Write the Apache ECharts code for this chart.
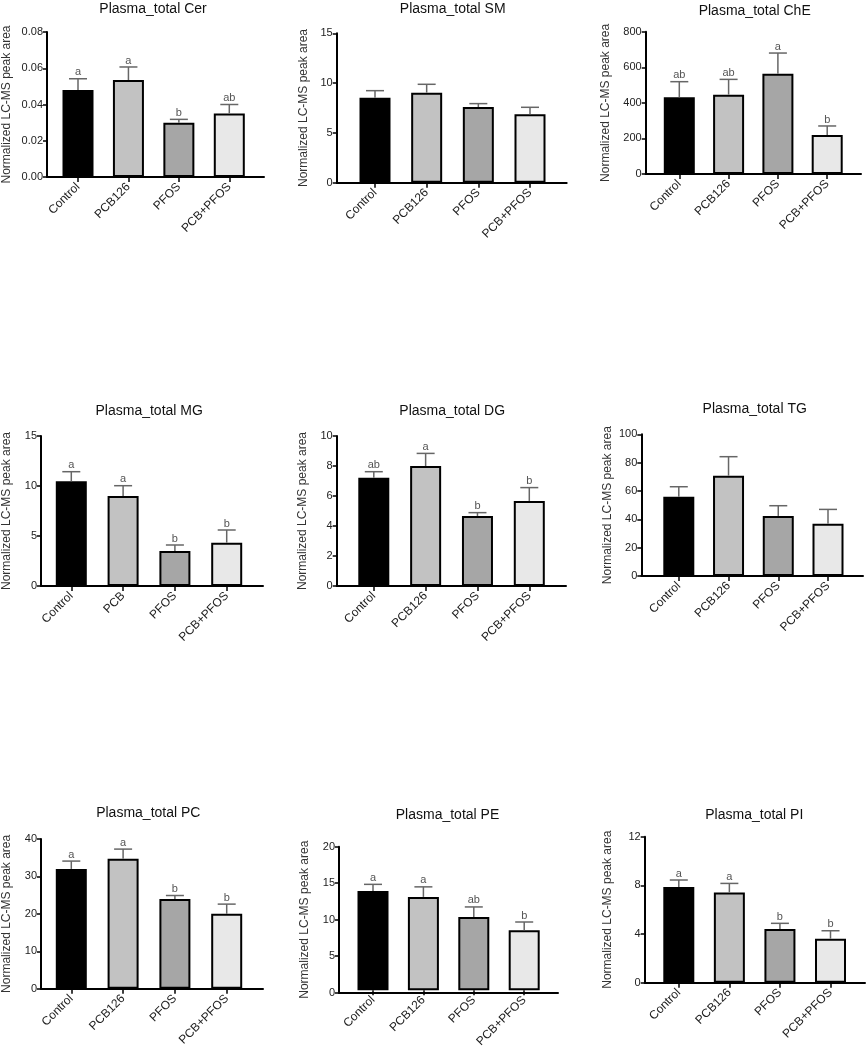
<!DOCTYPE html>
<html><head><meta charset="utf-8">
<script src="https://cdn.jsdelivr.net/npm/echarts@6/dist/echarts.min.js"></script>
<style>html,body{margin:0;padding:0;background:#fff}#c{width:867px;height:1050px}</style>
</head><body><div id="c"></div>
<script>
// ---------- data ----------
const categories = ['Control', 'PCB126', 'PFOS', 'PCB+PFOS'];
const categoriesMG = ['Control', 'PCB', 'PFOS', 'PCB+PFOS'];
const yAxisName = 'Normalized LC-MS peak area';

const titles = ['Plasma_total Cer', 'Plasma_total SM', 'Plasma_total ChE',
                'Plasma_total MG', 'Plasma_total DG', 'Plasma_total TG',
                'Plasma_total PC', 'Plasma_total PE', 'Plasma_total PI'];

const cerMean = [0.048, 0.0535, 0.030, 0.0351];
const cerSem  = [0.0062, 0.0072, 0.0018, 0.0049];
const cerLetters = ['a', 'a', 'b', 'ab'];

const smMean = [8.54, 9.04, 7.60, 6.87];
const smSem  = [0.70, 0.84, 0.34, 0.70];
const smLetters = ['', '', '', ''];

const cheMean = [431, 446, 564, 219];
const cheSem  = [88, 86, 116, 51];
const cheLetters = ['ab', 'ab', 'a', 'b'];

const mgMean = [10.47, 9.00, 3.50, 4.33];
const mgSem  = [0.96, 1.03, 0.60, 1.27];
const mgLetters = ['a', 'a', 'b', 'b'];

const dgMean = [7.22, 8.00, 4.67, 5.67];
const dgSem  = [0.40, 0.84, 0.22, 0.89];
const dgLetters = ['ab', 'a', 'b', 'b'];

const tgMean = [56.0, 70.8, 42.4, 36.9];
const tgSem  = [7.0, 13.4, 7.2, 10.1];
const tgLetters = ['', '', '', ''];

const pcMean = [32.0, 34.7, 24.0, 20.0];
const pcSem  = [2.1, 2.6, 0.9, 2.6];
const pcLetters = ['a', 'a', 'b', 'b'];

const peMean = [13.84, 13.0, 10.2, 8.36];
const peSem  = [0.91, 1.4, 1.4, 1.14];
const peLetters = ['a', 'a', 'ab', 'b'];

const piMean = [7.86, 7.42, 4.41, 3.62];
const piSem  = [0.58, 0.74, 0.47, 0.65];
const piLetters = ['a', 'a', 'b', 'b'];

// y axis scales: [max, interval, decimals]
const yScales = [[0.08, 0.02, 2], [15, 5, 0], [800, 200, 0],
                 [15, 5, 0], [10, 2, 0], [100, 20, 0],
                 [40, 10, 0], [20, 5, 0], [12, 4, 0]];

// ---------- layout / style ----------
const FONT = '"Liberation Sans", Arial, sans-serif';
const barColors = ['#000000', '#c2c2c2', '#a6a6a6', '#e8e8e8'];
const ERR_COLOR = '#666666';
const LETTER_COLOR = '#555555';
// L, R, T, B, firstBarCenter, lastBarCenter, titleX, titleY, nameGap
const layouts = [
  [42, 264, 32, 177, 78, 229.3, 153, 2, 34],
  [336.7, 566.7, 33.3, 182.7, 375, 530, 452.7, 2, 27],
  [645.7, 861, 31.7, 174, 679.3, 827.2, 754.7, 4, 34],
  [36, 263, 436, 586, 71.3, 226.7, 149.2, 404, 28],
  [336.7, 566, 436, 586, 373.8, 529.3, 452.2, 404, 28],
  [641.3, 863, 434.3, 576, 678.8, 828, 754.7, 402, 28],
  [35.7, 263, 839, 988.7, 71.3, 226.7, 148.3, 806, 28],
  [339, 558, 846.7, 992.7, 373, 524.2, 447.5, 808, 28],
  [644.7, 865, 836.7, 982.7, 678.8, 830.5, 754.3, 808, 31]
];

const panels = [
  [categories, cerMean, cerSem, cerLetters],
  [categories, smMean, smSem, smLetters],
  [categories, cheMean, cheSem, cheLetters],
  [categoriesMG, mgMean, mgSem, mgLetters],
  [categories, dgMean, dgSem, dgLetters],
  [categories, tgMean, tgSem, tgLetters],
  [categories, pcMean, pcSem, pcLetters],
  [categories, peMean, peSem, peLetters],
  [categories, piMean, piSem, piLetters]
];

const grid = [], xAxis = [], yAxis = [], series = [], title = [];

panels.forEach((p, i) => {
  const [cats, mean, sem, letters] = p;
  const [L, R, T, B, c1, c4, tx, ty, gap] = layouts[i];
  const [ymax, yint, dec] = yScales[i];
  const s = (c4 - c1) / 3;
  const gA = 2 * i, gB = 2 * i + 1;
  grid.push({ left: L, top: T, width: R - L, height: B - T });
  grid.push({ left: c1 - s / 2, top: T, width: 4 * s, height: B - T });

  title.push({
    text: titles[i], left: tx, top: ty, textAlign: 'center', padding: 0,
    textStyle: { fontSize: 14, fontWeight: 'normal', color: '#111', fontFamily: FONT }
  });

  // frame axes (grid A)
  xAxis.push({
    gridIndex: gA, type: 'value', min: 0, max: 1,
    axisLine: { show: true, lineStyle: { color: '#000', width: 2 } },
    axisTick: { show: false }, axisLabel: { show: false }, splitLine: { show: false }
  });
  yAxis.push({
    gridIndex: gA, type: 'value', min: 0, max: ymax, interval: yint,
    name: yAxisName, nameLocation: 'middle', nameGap: gap,
    nameTextStyle: { fontSize: 12, color: '#333', fontFamily: FONT },
    axisLine: { show: true, lineStyle: { color: '#000', width: 2 } },
    axisTick: { show: true, length: 4, lineStyle: { color: '#000', width: 1.5 } },
    axisLabel: { fontSize: 11, color: '#222', margin: 4, fontFamily: FONT,
                 formatter: v => v.toFixed(dec) },
    splitLine: { show: false }
  });
  // data axes (grid B)
  xAxis.push({
    gridIndex: gB, type: 'category', data: cats,
    axisLine: { show: false },
    axisTick: { show: true, alignWithLabel: true, length: 5, lineStyle: { color: '#000', width: 1.5 } },
    axisLabel: { rotate: 45, fontSize: 12, color: '#222', margin: 8, fontFamily: FONT, interval: 0 },
    splitLine: { show: false }
  });
  yAxis.push({ gridIndex: gB, type: 'value', min: 0, max: ymax, show: false, splitLine: { show: false } });

  series.push({
    type: 'bar', xAxisIndex: gB, yAxisIndex: gB, barWidth: 31,
    data: mean.map((v, j) => ({ value: v, itemStyle: { color: barColors[j] } })),
    itemStyle: { borderColor: '#000', borderWidth: 2 },
    z: 2, silent: true
  });
  series.push({
    type: 'custom', xAxisIndex: gB, yAxisIndex: gB, z: 3, silent: true,
    itemStyle: { color: LETTER_COLOR },
    data: mean.map((v, j) => [j, v, sem[j]]),
    renderItem: (params, api) => {
      const x = api.value(0), m = api.value(1), e = api.value(2);
      const p0 = api.coord([x, m]);
      const p1 = api.coord([x, m + e]);
      const children = [
        { type: 'line', shape: { x1: p0[0], y1: p0[1], x2: p1[0], y2: p1[1] },
          style: { stroke: ERR_COLOR, lineWidth: 1.5, fill: null } },
        { type: 'line', shape: { x1: p1[0] - 9, y1: p1[1], x2: p1[0] + 9, y2: p1[1] },
          style: { stroke: ERR_COLOR, lineWidth: 1.5, fill: null } }
      ];
      const letter = letters[params.dataIndex];
      if (letter) {
        children.push({ type: 'text', x: p1[0], y: p1[1] - 1,
          style: { text: letter, align: 'center', verticalAlign: 'bottom',
                   fontSize: 11, fontFamily: FONT, fill: LETTER_COLOR, stroke: null } });
      }
      return { type: 'group', children };
    }
  });
});

const chart = echarts.init(document.getElementById('c'), null, { renderer: 'canvas' });
chart.setOption({
  animation: false,
  backgroundColor: '#fff',
  textStyle: { fontFamily: FONT },
  title, grid, xAxis, yAxis, series
});
</script>
</body></html>
